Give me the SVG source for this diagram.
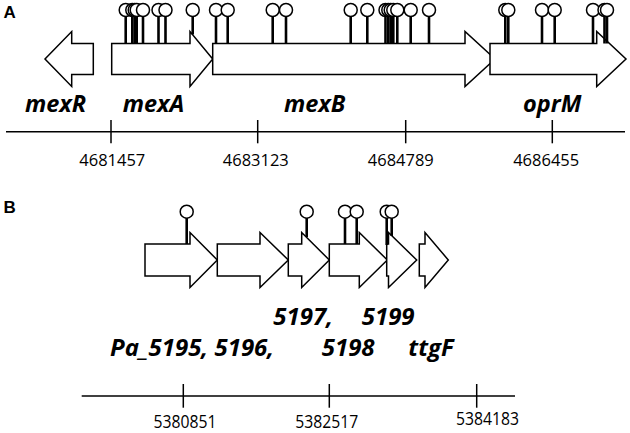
<svg xmlns="http://www.w3.org/2000/svg" width="630" height="433" viewBox="0 0 630 433">
<style>
.gene{fill:#fff;stroke:#000;stroke-width:1.5;stroke-linejoin:miter}
.stem{stroke:#000;stroke-width:2.6}
.pop{fill:#fff;stroke:#000;stroke-width:1.5}
.axis{stroke:#000;stroke-width:1.5;fill:none}
.lbl{font-family:"Open Sans","Liberation Sans",sans-serif;font-weight:bold;font-style:italic;font-size:23.5px;fill:#000}
.lblb{font-family:"Open Sans","Liberation Sans",sans-serif;font-weight:bold;font-style:italic;font-size:24px;fill:#000}
.num{font-family:"Open Sans","Liberation Sans",sans-serif;font-size:16.5px;fill:#000;text-anchor:middle}
.numb{font-family:"Open Sans","Liberation Sans",sans-serif;font-size:17.5px;fill:#000;text-anchor:middle}
.panel{font-family:"Liberation Sans",Arial,sans-serif;font-weight:bold;font-size:17px;fill:#000}
</style>

<text class="panel" x="3.5" y="18">A</text>
<text class="panel" x="3.5" y="213">B</text>

<!-- Panel A genes -->
<g id="mexR"><polygon class="gene" points="93.3,43.5 71.7,43.5 71.7,31.5 45,59 71.7,86.5 71.7,74.5 93.3,74.5"/><text class="lbl" x="25" y="111.7">mexR</text></g>
<g id="mexA"><polygon class="gene" points="111.7,43.5 190,43.5 190,31.5 212.7,59 190,86.5 190,74.5 111.7,74.5"/><text class="lbl" x="122.7" y="111.7">mexA</text></g>
<g id="mexB"><polygon class="gene" points="212.7,43.5 465,43.5 465,31.5 495,59 465,86.5 465,74.5 212.7,74.5"/><text class="lbl" x="284" y="111.7">mexB</text></g>
<g id="oprM"><polygon class="gene" points="490,43.5 596.7,43.5 596.7,31.5 626,59 596.7,86.5 596.7,74.5 490,74.5"/><text class="lbl" x="523" y="111.7">oprM</text></g>

<!-- Panel A lollipops -->
<g id="snpsA">
<g class="stem">
<line x1="125.7" y1="16" x2="125.7" y2="43.5"/><line x1="132.3" y1="16" x2="132.3" y2="43.5"/>
<line x1="134.7" y1="16" x2="134.7" y2="43.5"/><line x1="136.7" y1="16" x2="136.7" y2="43.5"/>
<line x1="143" y1="16" x2="143" y2="43.5"/><line x1="158.5" y1="16" x2="158.5" y2="43.5"/>
<line x1="165.5" y1="16" x2="165.5" y2="43.5"/><line x1="192.7" y1="16" x2="192.7" y2="34.5"/>
<line x1="216" y1="16" x2="216" y2="43.5"/><line x1="227.7" y1="16" x2="227.7" y2="43.5"/>
<line x1="272.7" y1="16" x2="272.7" y2="43.5"/><line x1="286" y1="16" x2="286" y2="43.5"/>
<line x1="350.7" y1="16" x2="350.7" y2="43.5"/><line x1="367.3" y1="16" x2="367.3" y2="43.5"/>
<line x1="385.5" y1="16" x2="385.5" y2="43.5"/><line x1="388.3" y1="16" x2="388.3" y2="43.5"/>
<line x1="390.7" y1="16" x2="390.7" y2="43.5"/><line x1="393.3" y1="16" x2="393.3" y2="43.5"/>
<line x1="397.3" y1="16" x2="397.3" y2="43.5"/><line x1="410.7" y1="16" x2="410.7" y2="43.5"/>
<line x1="429" y1="16" x2="429" y2="43.5"/><line x1="505.3" y1="16" x2="505.3" y2="43.5"/>
<line x1="508.3" y1="16" x2="508.3" y2="43.5"/><line x1="542" y1="16" x2="542" y2="43.5"/>
<line x1="554.7" y1="16" x2="554.7" y2="43.5"/><line x1="593" y1="16" x2="593" y2="43.5"/>
<line x1="604.5" y1="16" x2="604.5" y2="43.5"/><line x1="607" y1="16" x2="607" y2="43.5"/>
</g>
<g class="pop">
<circle cx="125.7" cy="10" r="6.5"/><circle cx="132.3" cy="10" r="6.5"/><circle cx="134.7" cy="10" r="6.5"/>
<circle cx="136.7" cy="10" r="6.5"/><circle cx="143" cy="10" r="6.5"/><circle cx="158.5" cy="10" r="6.5"/>
<circle cx="165.5" cy="10" r="6.5"/><circle cx="192.7" cy="10" r="6.5"/><circle cx="216" cy="10" r="6.5"/>
<circle cx="227.7" cy="10" r="6.5"/><circle cx="272.7" cy="10" r="6.5"/><circle cx="286" cy="10" r="6.5"/>
<circle cx="350.7" cy="10" r="6.5"/><circle cx="367.3" cy="10" r="6.5"/><circle cx="385.5" cy="10" r="6.5"/>
<circle cx="388.3" cy="10" r="6.5"/><circle cx="390.7" cy="10" r="6.5"/><circle cx="393.3" cy="10" r="6.5"/>
<circle cx="397.3" cy="10" r="6.5"/><circle cx="410.7" cy="10" r="6.5"/><circle cx="429" cy="10" r="6.5"/>
<circle cx="505.3" cy="10" r="6.5"/><circle cx="508.3" cy="10" r="6.5"/><circle cx="542" cy="10" r="6.5"/>
<circle cx="554.7" cy="10" r="6.5"/><circle cx="593" cy="10" r="6.5"/><circle cx="604.5" cy="10" r="6.5"/>
<circle cx="607" cy="10" r="6.5"/>
</g>
</g>

<!-- Panel A axis -->
<g id="axisA">
<line class="axis" x1="6" y1="131.7" x2="625" y2="131.7"/>
<line class="axis" x1="111" y1="120" x2="111" y2="143.3"/>
<line class="axis" x1="257.7" y1="120" x2="257.7" y2="143.3"/>
<line class="axis" x1="405.7" y1="120" x2="405.7" y2="143.3"/>
<line class="axis" x1="552.3" y1="120" x2="552.3" y2="143.3"/>
<text class="num" x="112.3" y="166" textLength="66" lengthAdjust="spacingAndGlyphs">4681457</text>
<text class="num" x="255.8" y="166" textLength="66" lengthAdjust="spacingAndGlyphs">4683123</text>
<text class="num" x="400.8" y="166" textLength="66" lengthAdjust="spacingAndGlyphs">4684789</text>
<text class="num" x="546.2" y="166" textLength="66" lengthAdjust="spacingAndGlyphs">4686455</text>
</g>

<!-- Panel B genes -->
<g id="Pa_5195"><polygon class="gene" points="145,244 190,244 190,232.5 217.3,260 190,287.5 190,276 145,276"/></g>
<g id="g5196"><polygon class="gene" points="217.3,244 260,244 260,232.5 288.3,260 260,287.5 260,276 217.3,276"/></g>
<g id="g5197"><polygon class="gene" points="288.3,244 301.7,244 301.7,232.5 329.3,260 301.7,287.5 301.7,276 288.3,276"/></g>
<g id="g5198"><polygon class="gene" points="329.3,244 359.3,244 359.3,232.5 387.3,260 359.3,287.5 359.3,276 329.3,276"/></g>
<g id="g5199"><polygon class="gene" points="386.7,244 388.5,244 388.5,232.5 416.7,260 388.5,287.5 388.5,276 386.7,276"/></g>
<g id="ttgF"><polygon class="gene" points="419.3,244 425,244 425,232.5 448.3,260 425,287.5 425,276 419.3,276"/></g>

<g id="labelsB">
<text class="lblb" x="273.3" y="325">5197,</text>
<text class="lblb" x="361.7" y="325">5199</text>
<text class="lblb" x="110" y="356">Pa_5195, 5196,</text>
<text class="lblb" x="321.7" y="356">5198</text>
<text class="lblb" x="408.3" y="356">ttgF</text>
</g>

<!-- Panel B lollipops -->
<g id="snpsB">
<g class="stem">
<line x1="186.7" y1="218" x2="186.7" y2="244"/>
<line x1="306.7" y1="218" x2="306.7" y2="237"/>
<line x1="345" y1="218" x2="345" y2="244"/>
<line x1="356.7" y1="218" x2="356.7" y2="244"/>
<line x1="386.7" y1="218" x2="386.7" y2="245"/>
<line x1="391.7" y1="218" x2="391.7" y2="236"/>
</g>
<g class="pop">
<circle cx="186.7" cy="211.7" r="6.5"/>
<circle cx="306.7" cy="211.7" r="6.5"/>
<circle cx="345" cy="211.7" r="6.5"/>
<circle cx="356.7" cy="211.7" r="6.5"/>
<circle cx="386.7" cy="211.7" r="6.5"/>
<circle cx="391.7" cy="211.7" r="6.5"/>
</g>
</g>

<!-- Panel B axis -->
<g id="axisB">
<line class="axis" x1="81.7" y1="396" x2="515" y2="396"/>
<line class="axis" x1="183.3" y1="384" x2="183.3" y2="407.7"/>
<line class="axis" x1="329.3" y1="384" x2="329.3" y2="407.7"/>
<line class="axis" x1="476.7" y1="384" x2="476.7" y2="407.7"/>
<text class="numb" x="185" y="428.3" textLength="63" lengthAdjust="spacingAndGlyphs">5380851</text>
<text class="numb" x="326.7" y="428.3" textLength="63" lengthAdjust="spacingAndGlyphs">5382517</text>
<text class="numb" x="487.5" y="425" textLength="63" lengthAdjust="spacingAndGlyphs">5384183</text>
</g>
</svg>
